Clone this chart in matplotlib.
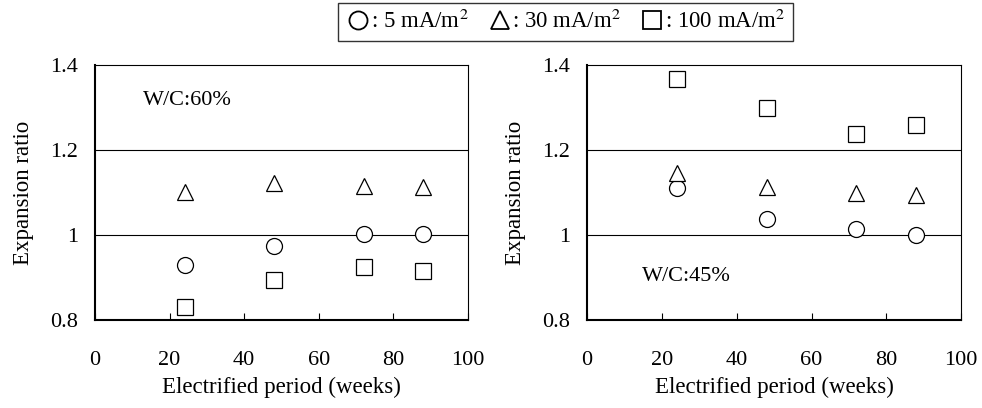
import matplotlib
matplotlib.use("Agg")
from matplotlib import pyplot as plt
from matplotlib.lines import Line2D

plt.rcParams['font.family'] = ['Liberation Serif', 'DejaVu Serif']
plt.rcParams['mathtext.fontset'] = 'stix'

weeks = [24, 48, 72, 88]

# W/C 60%
wc60_5 = [0.929, 0.974, 1.003, 1.003]
wc60_30 = [1.102, 1.123, 1.115, 1.113]
wc60_100 = [0.831, 0.894, 0.925, 0.916]

# W/C 45%
wc45_5 = [1.110, 1.038, 1.013, 1.000]
wc45_30 = [1.147, 1.114, 1.098, 1.094]
wc45_100 = [1.367, 1.298, 1.238, 1.259]

labels = [": 5 mA/m$^2$", ": 30 mA/m$^2$", ": 100 mA/m$^2$"]
markers = ['o', '^', 's']

fig = plt.figure(figsize=(9.82, 4.08), dpi=100)
ax1 = fig.add_axes([0.0967, 0.2157, 0.380, 0.625])
ax2 = fig.add_axes([0.5978, 0.2157, 0.381, 0.625])

panels = [(ax1, [wc60_5, wc60_30, wc60_100], "W/C:60%", (0.13, 0.86)),
          (ax2, [wc45_5, wc45_30, wc45_100], "W/C:45%", (0.147, 0.17))]

for ax, series, note, pos in panels:
    for vals, m in zip(series, markers):
        ax.plot(weeks, vals, linestyle='none', marker=m, markersize=11.5,
                markerfacecolor='white', markeredgecolor='black', markeredgewidth=0.9,
                zorder=3)
    ax.set_xlim(0, 100)
    ax.set_ylim(0.8, 1.4)
    ax.set_xticks([0, 20, 40, 60, 80, 100])
    ax.set_yticks([0.8, 1.0, 1.2, 1.4])
    ax.set_yticklabels(["0.8", "1", "1.2", "1.4"])
    for yv in [1.0, 1.2]:
        ax.axhline(yv, color='black', linewidth=0.8, zorder=1)
    ax.tick_params(axis='x', direction='in', length=5, pad=22, labelsize=16)
    ax.tick_params(axis='y', length=0, pad=12, labelsize=16)
    ax.spines['left'].set_linewidth(1.5)
    ax.spines['bottom'].set_linewidth(1.5)
    ax.spines['top'].set_linewidth(0.8)
    ax.spines['right'].set_linewidth(0.8)
    ax.set_xlabel("Electrified period (weeks)", fontsize=16.5, labelpad=5)
    ax.set_ylabel("Expansion ratio", fontsize=16.5, labelpad=12)
    ax.text(pos[0], pos[1], note, transform=ax.transAxes, fontsize=16,
            va='center', ha='left')

handles = [Line2D([], [], linestyle='none', marker=m, markersize=13,
                  markerfacecolor='white', markeredgecolor='black', markeredgewidth=1.3)
           for m in markers]
leg = fig.legend(handles, labels, loc='upper center', bbox_to_anchor=(0.576, 0.993),
                 ncol=3, fontsize=16.5, frameon=True, fancybox=False, edgecolor='black',
                 handletextpad=0.0, columnspacing=0.8, borderpad=0.32, handlelength=1.1,
                 borderaxespad=0)
leg.get_frame().set_linewidth(1.0)

fig.savefig("out.png", dpi=100)
